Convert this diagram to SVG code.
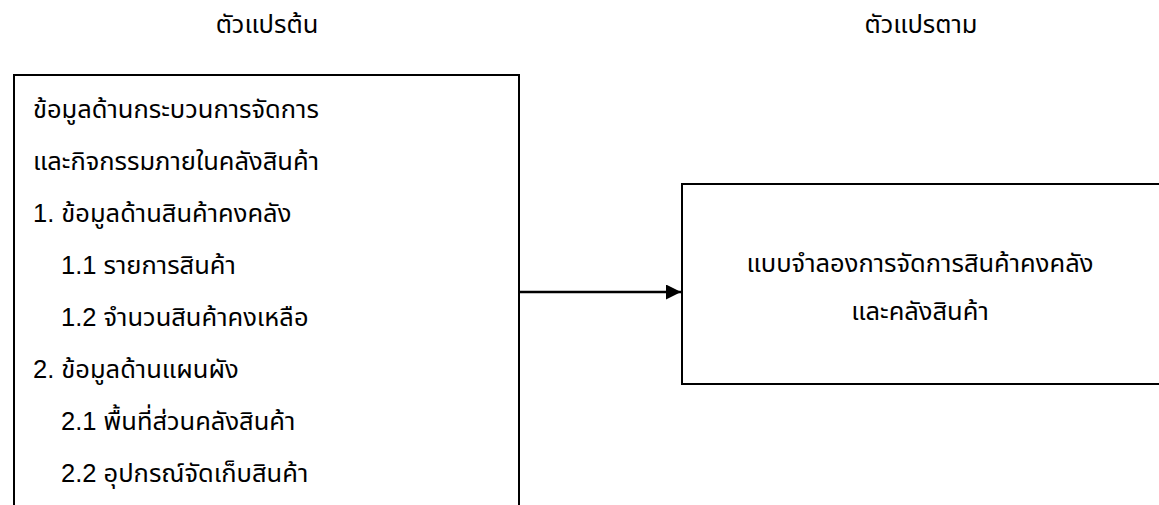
<svg xmlns="http://www.w3.org/2000/svg" width="1159" height="505" viewBox="0 0 1159 505">
<style>
text{font-family:"Liberation Sans","Noto Sans Thai","Noto Sans",sans-serif;font-size:25.5px;fill:#000}
.box{fill:#fff;stroke:#000;stroke-width:2}
.c{text-anchor:middle}
</style>
<defs>
<marker id="ah" markerWidth="15" markerHeight="15" refX="15" refY="7.5" orient="auto" markerUnits="userSpaceOnUse" viewBox="0 0 15 15"><path d="M0,0L15,7.5L0,15z" fill="#000"/></marker>
</defs>
<rect width="1159" height="505" fill="#fff"/>
<g id="hdr-left"><text class="c" x="267" y="33">ตัวแปรต้น</text></g>
<g id="hdr-right"><text class="c" x="921" y="33">ตัวแปรตาม</text></g>
<g id="independent">
<path class="box" d="M14,510V75H519V510"/>
<text x="33" y="118">ข้อมูลด้านกระบวนการจัดการ</text>
<text x="33" y="170">และกิจกรรมภายในคลังสินค้า</text>
<text x="33" y="222">1. ข้อมูลด้านสินค้าคงคลัง</text>
<text x="61" y="274">1.1 รายการสินค้า</text>
<text x="61" y="326">1.2 จำนวนสินค้าคงเหลือ</text>
<text x="33" y="378">2. ข้อมูลด้านแผนผัง</text>
<text x="61" y="430">2.1 พื้นที่ส่วนคลังสินค้า</text>
<text x="61" y="482">2.2 อุปกรณ์จัดเก็บสินค้า</text>
</g>
<g id="dependent">
<path class="box" d="M1165,184H682V384H1165"/>
<text class="c" x="920" y="272">แบบจำลองการจัดการสินค้าคงคลัง</text>
<text class="c" x="920" y="320">และคลังสินค้า</text>
</g>
<g id="connectors">
<line x1="519" y1="292" x2="681" y2="292" stroke="#000" stroke-width="2.5" marker-end="url(#ah)"/>
</g>
</svg>
